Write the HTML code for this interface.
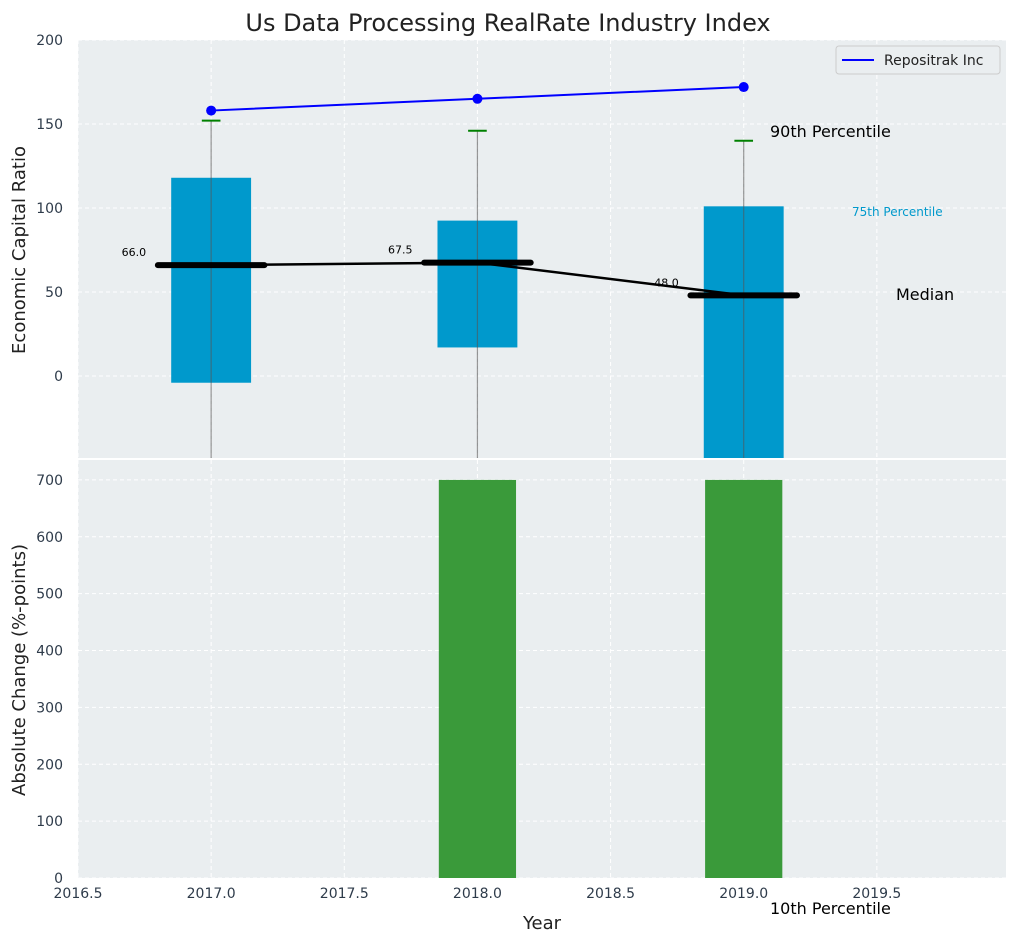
<!DOCTYPE html>
<html><head><meta charset="utf-8"><style>
body{margin:0;background:#fff;}
svg text{font-family:"DejaVu Sans","Liberation Sans",sans-serif;}
</style></head><body>
<svg id="c" width="1016" height="942" style="position:absolute;left:0;top:0" xmlns="http://www.w3.org/2000/svg"></svg>
<script>
const years=[2017,2018,2019];
const q75=[118,92.5,101];
const q25=[-4,17,-60];
const p90=[152,146,140];
const p10=[-60,-60,-60];
const medians=[66,67.5,48];
const company=[158,165,172];
const changes=[0,700,700];
const xTicks=[2016.5,2017.0,2017.5,2018.0,2018.5,2019.0,2019.5];
const yTopTicks=[0,50,100,150,200];
const yBotTicks=[0,100,200,300,400,500,600,700];

const L=78,R=1006,X0=2016.5,X1=2019.985;
const x=v=>L+(v-X0)/(X1-X0)*(R-L);
const T0=40,T1=458,YT0=-48.8,YT1=200;
const yt=v=>T1-(v-YT0)/(YT1-YT0)*(T1-T0);
const B0=460,B1=878,YB1=735;
const yb=v=>B1-v/YB1*(B1-B0);
const svg=document.getElementById('c');
const NS='http://www.w3.org/2000/svg';
function mk(tag,attrs,parent,text){const e=document.createElementNS(NS,tag);for(const k in attrs)e.setAttribute(k,attrs[k]);if(text!==undefined)e.textContent=text;(parent||svg).appendChild(e);return e;}

let g=mk('rect',{x:L,y:T0,width:R-L,height:T1-T0,fill:'#eaeef0'});


g=mk('rect',{x:L,y:B0,width:R-L,height:B1-B0,fill:'#eaeef0'});


mk('defs',{}).innerHTML='<clipPath id="ct"><rect x="78" y="40" width="928" height="418"/></clipPath><clipPath id="cb"><rect x="78" y="460" width="928" height="418"/></clipPath>';

xTicks.forEach(t=>{
  mk('line',{x1:x(t),x2:x(t),y1:T0,y2:T1,stroke:'#fff','stroke-dasharray':'4,3','stroke-width':1});
  mk('line',{x1:x(t),x2:x(t),y1:B0,y2:B1,stroke:'#fff','stroke-dasharray':'4,3','stroke-width':1});
  const tl=mk('text',{x:x(t),y:898,'text-anchor':'middle','font-size':14,fill:'#2e3b4a'},null,t.toFixed(1));
  
  
});
yTopTicks.forEach(t=>{
  mk('line',{x1:L,x2:R,y1:yt(t),y2:yt(t),stroke:'#fff','stroke-dasharray':'4,3'});
  const tl=mk('text',{x:L-15,y:yt(t)+5,'text-anchor':'end','font-size':14,fill:'#2e3b4a'},null,t);
  
  
});
yBotTicks.forEach(t=>{
  mk('line',{x1:L,x2:R,y1:yb(t),y2:yb(t),stroke:'#fff','stroke-dasharray':'4,3'});
  const tl=mk('text',{x:L-15,y:yb(t)+5,'text-anchor':'end','font-size':14,fill:'#2e3b4a'},null,t);
  
  
});

const topG=mk('g',{'clip-path':'url(#ct)'});
const bw=0.3;
years.forEach((yr,i)=>{
  const b=mk('rect',{x:x(yr-bw/2),y:yt(q75[i]),width:x(yr+bw/2)-x(yr-bw/2),height:yt(q25[i])-yt(q75[i]),fill:'#0099cc'},topG);
  
  
  const w=mk('line',{x1:x(yr),x2:x(yr),y1:yt(p90[i]),y2:yt(p10[i]),stroke:'#555','stroke-opacity':0.6,'stroke-width':1.2},topG);
  
  
  const cp=mk('line',{x1:x(yr-0.035),x2:x(yr+0.035),y1:yt(p90[i]),y2:yt(p90[i]),stroke:'#008000','stroke-width':2},topG);
  
  
});
const ml=mk('polyline',{points:years.map((yr,i)=>x(yr)+','+yt(medians[i])).join(' '),fill:'none',stroke:'#000','stroke-width':2.5},topG);


years.forEach((yr,i)=>{
  const m=mk('line',{x1:x(yr-0.2),x2:x(yr+0.2),y1:yt(medians[i]),y2:yt(medians[i]),stroke:'#000','stroke-width':6,'stroke-linecap':'round'},topG);
  
  
  const t=mk('text',{x:x(yr-0.29),y:yt(medians[i])-9,'text-anchor':'middle','font-size':11,fill:'#000'},null,medians[i].toFixed(1));
  
  
});
const cl=mk('polyline',{points:years.map((yr,i)=>x(yr)+','+yt(company[i])).join(' '),fill:'none',stroke:'#0000ff','stroke-width':2},topG);


years.forEach((yr,i)=>{
  const p=mk('circle',{cx:x(yr),cy:yt(company[i]),r:5,fill:'#0000ff'},topG);
  
  
});

const botG=mk('g',{'clip-path':'url(#cb)'});
years.forEach((yr,i)=>{
  const b=mk('rect',{x:x(yr-0.145),y:yb(changes[i]),width:x(yr+0.145)-x(yr-0.145),height:yb(0)-yb(changes[i]),fill:'#3a9a3a'},botG);
  
  
});
</script>
<svg width="1016" height="942" style="position:absolute;left:0;top:0" xmlns="http://www.w3.org/2000/svg">
<rect x="0" y="458" width="1016" height="2" fill="#fff"/>
<text x="508" y="31" text-anchor="middle" font-size="24" fill="#222">Us Data Processing RealRate Industry Index</text>
<text x="25" y="250" transform="rotate(-90 25 250)" text-anchor="middle" font-size="18" fill="#222">Economic Capital Ratio</text>
<text x="25" y="670" transform="rotate(-90 25 670)" text-anchor="middle" font-size="18" fill="#222">Absolute Change (%-points)</text>
<text x="542" y="929" text-anchor="middle" font-size="18" fill="#222">Year</text>
<text x="770" y="137" font-size="16" fill="#000">90th Percentile</text>
<text x="852" y="216" font-size="12" fill="#0099cc">75th Percentile</text>
<text x="896" y="300" font-size="16" fill="#000">Median</text>
<text x="770" y="914" font-size="16" fill="#000">10th Percentile</text>
<g>
<rect x="836" y="46" width="164" height="28" rx="3" fill="#eaeef0" stroke="#ccc"/>
<line x1="842" x2="874" y1="60" y2="60" stroke="#0000ff" stroke-width="2"/>
<text x="884" y="65" font-size="14" fill="#222">Repositrak Inc</text>
</g>
</svg>
</body></html>
